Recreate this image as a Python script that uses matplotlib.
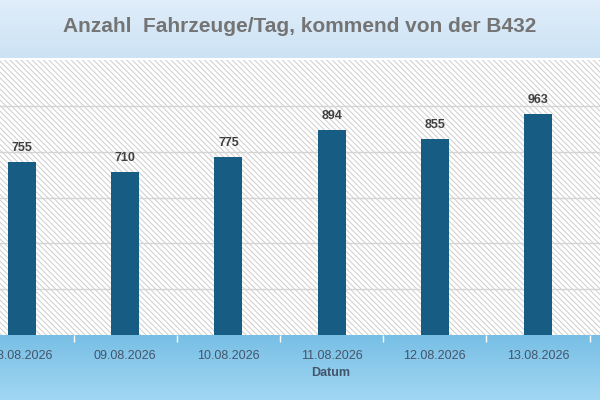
import numpy as np
import matplotlib
matplotlib.use("Agg")
import matplotlib.pyplot as plt
from matplotlib.patches import Rectangle

# Data
dates = ["08.08.2026", "09.08.2026", "10.08.2026", "11.08.2026", "12.08.2026", "13.08.2026"]
vehicles = [755, 710, 775, 894, 855, 963]
title = "Anzahl  Fahrzeuge/Tag, kommend von der B432"

plt.rcParams['font.family'] = ['Liberation Sans', 'DejaVu Sans']
plt.rcParams['hatch.linewidth'] = 0.7

fig = plt.figure(figsize=(6, 4), dpi=100)

# Background bands (pixel coordinates, y downwards)
bg = fig.add_axes([0, 0, 1, 1])
bg.axis("off")
grad = np.linspace(0, 1, 50).reshape(-1, 1)
c1, c2 = np.array([0.88, 0.93, 0.98]), np.array([0.80, 0.89, 0.96])
bg.imshow(c1 + (c2 - c1) * grad[..., None], extent=(0, 600, 58, 0), aspect="auto")
c3, c4 = np.array([0.47, 0.75, 0.90]), np.array([0.63, 0.84, 0.95])
bg.imshow(c3 + (c4 - c3) * grad[..., None], extent=(0, 600, 400, 335), aspect="auto")
bg.set_xlim(0, 600)
bg.set_ylim(400, 0)

# Plot area
ax = fig.add_axes([0, 1 - 335 / 400, 1, (335 - 60) / 400])
ax.add_patch(Rectangle((0, 0), 1, 1, transform=ax.transAxes, facecolor="white",
                       edgecolor="#cdcdcd", hatch="\\" * 6, lw=0, zorder=0))
ax.set_facecolor("white")
for s in ax.spines.values():
    s.set_visible(False)

ax.set_yticks([200, 400, 600, 800, 1000])
ax.yaxis.grid(True, color="#d4d4d4", lw=1)
ax.set_axisbelow(True)
ax.tick_params(axis="y", left=False, labelleft=False)

x = np.arange(len(dates))
ax.bar(x, vehicles, width=0.27, color="#175d83", zorder=3)
for xi, v in zip(x, vehicles):
    ax.annotate(str(v), (xi, v), xytext=(0, 6), textcoords="offset points",
                ha="center", va="bottom", fontsize=9, fontweight="bold", color="#404040")

ax.set_xticks(x)
ax.set_xticklabels(dates, fontsize=9, color="#44546a")
ax.set_xticks(np.arange(-0.5, 6.5, 1), minor=True)
ax.tick_params(axis="x", which="major", length=0, pad=11)
ax.tick_params(axis="x", which="minor", length=5, color="white", width=1)
ax.set_xlim(-0.213, 5.60)
ax.set_ylim(0, 1200)

fig.text(331 / 600, 1 - 373 / 400, "Datum", ha="center", va="center",
         fontsize=9, fontweight="bold", color="#44546a")
fig.text(0.5, 1 - 27 / 400, title, ha="center", va="center",
         fontsize=15, fontweight="bold", color="#747474")

fig.savefig("out.png", dpi=100)
